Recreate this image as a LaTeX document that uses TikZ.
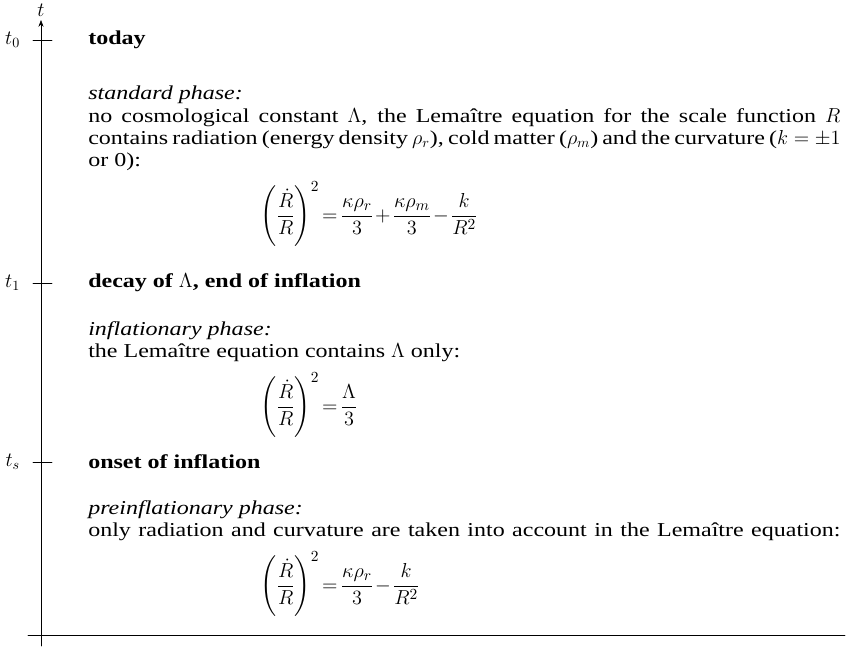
\documentclass[tikz,border=0pt]{standalone}
\usepackage{amsmath}
\usepackage{fontspec}
\setmainfont[FakeStretch=1.22]{Liberation Serif}
\usetikzlibrary{arrows.meta}
\newcommand{\rmsize}{\fontsize{14}{15.6}\selectfont}
\newcommand{\eqsize}{\fontsize{15.5}{18}\selectfont\medmuskip=1.5mu\thickmuskip=2.5mu}
\begin{document}
\begin{tikzpicture}[x=0.025cm, y=-0.025cm, >=Stealth, line cap=round,
  head/.style={anchor=west, inner sep=0pt, font=\rmsize\bfseries},
  phase/.style={anchor=west, inner sep=0pt, font=\rmsize\itshape},
  body/.style={anchor=north west, inner sep=0pt, text width=18.8cm, align=justify, font=\rmsize},
  eqn/.style={anchor=west, inner sep=0pt, font=\eqsize}]
\useasboundingbox (0,0) rectangle (848,646);
% Zeitachse
\draw[->] (41,646) -- (41,20);
\draw (28,635) -- (845,635);
\node[font=\rmsize] (tlab) at (41,10) {$t$};
% Marken auf der Achse
\foreach \y/\lab/\nm in {40/t_0/tnull, 283/t_1/teins, 462/t_s/tstart} {
  \draw (33,\y) -- (52,\y);
  \node[anchor=east, font=\rmsize] (\nm) at (25,\y) {$\lab$};
}
% heute
\node[head] (today) at (88,40) {today};
\node[phase] (std) at (88,95) {standard phase:};
\node[body] (stdtext) at (88,108) {no cosmological constant $\Lambda$, the Lema\^itre equation for the scale function $R$\linebreak
  contains radiation (energy density $\rho_r$), cold matter ($\rho_m$) and the curvature (${k=\pm1}$\linebreak
  or 0):};
\node[eqn] (stdeq) at (260,214) {$\displaystyle\left(\frac{\dot R}{R}\right)^{2}=\frac{\kappa\rho_r}{3}+\frac{\kappa\rho_m}{3}-\frac{k}{R^2}$};
% Inflation
\node[head] (decay) at (88,283) {decay of $\Lambda$, end of inflation};
\node[phase] (infl) at (88,331) {inflationary phase:};
\node[phase, font=\rmsize] (infltext) at (88,353) {the Lema\^itre equation contains $\Lambda$ only:};
\node[eqn] (infleq) at (260,405) {$\displaystyle\left(\frac{\dot R}{R}\right)^{2}=\frac{\Lambda}{3}$};
% vor der Inflation
\node[head] (onset) at (88,462) {onset of inflation};
\node[phase] (pre) at (88,510) {preinflationary phase:};
\node[phase, font=\rmsize] (pretext) at (88,532) {\makebox[18.8cm][s]{only radiation and curvature are taken into account in the Lema\^itre equation:}};
\node[eqn] (preeq) at (260,584) {$\displaystyle\left(\frac{\dot R}{R}\right)^{2}=\frac{\kappa\rho_r}{3}-\frac{k}{R^2}$};
\end{tikzpicture}
\end{document}
